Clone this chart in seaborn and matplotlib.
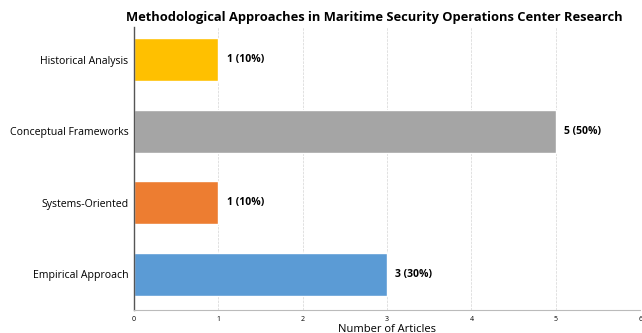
import matplotlib
matplotlib.use("Agg")
import matplotlib.pyplot as plt
import seaborn as sns
import pandas as pd

# data
categories = ["Historical Analysis", "Conceptual Frameworks", "Systems-Oriented", "Empirical Approach"]
counts = [1, 5, 1, 3]
percents = [10, 50, 10, 30]
colors = ["#FFC000", "#A5A5A5", "#ED7D31", "#5B9BD5"]

sns.set_style("white")
plt.rcParams['font.family'] = ['Open Sans', 'DejaVu Sans']
plt.rcParams['text.color'] = 'black'
plt.rcParams['axes.labelcolor'] = 'black'
plt.rcParams['xtick.color'] = 'black'
plt.rcParams['ytick.color'] = 'black'

df = pd.DataFrame({"Method": categories, "Count": counts})

fig = plt.figure(figsize=(6.42, 3.33), dpi=100)
ax = fig.add_axes([0.2087, 0.069, 0.7883, 0.85])

sns.barplot(data=df, y="Method", x="Count", hue="Method", palette=colors,
            order=categories, orient="h", width=0.6, legend=False, ax=ax, saturation=1)

for i, (c, p) in enumerate(zip(counts, percents)):
    ax.text(c + 0.1, i, f"{c} ({p}%)", va="center", ha="left", fontsize=7.5, fontweight="bold")

ax.set_xlim(0, 6)
ax.set_ylim(3.5, -0.46)
ax.set_xticks(range(0, 7))
ax.tick_params(axis="x", labelsize=5, length=2, color="#999999", pad=2)
ax.tick_params(axis="y", labelsize=7.6, length=2, color="#666666", pad=2)
ax.set_ylabel("")
ax.set_xlabel("Number of Articles", fontsize=8, labelpad=1)
ax.set_title("Methodological Approaches in Maritime Security Operations Center Research",
             fontsize=9.3, fontweight="bold", pad=4, x=0.474)

ax.grid(axis="x", linestyle="--", color="#d5d5d5", linewidth=0.5)
ax.set_axisbelow(True)
for s in ["top", "right"]:
    ax.spines[s].set_visible(False)
ax.spines["left"].set_color("#555555")
ax.spines["left"].set_linewidth(1.0)
ax.spines["bottom"].set_color("#bbbbbb")
ax.spines["bottom"].set_linewidth(0.8)

fig.savefig("out.png", dpi=100)
